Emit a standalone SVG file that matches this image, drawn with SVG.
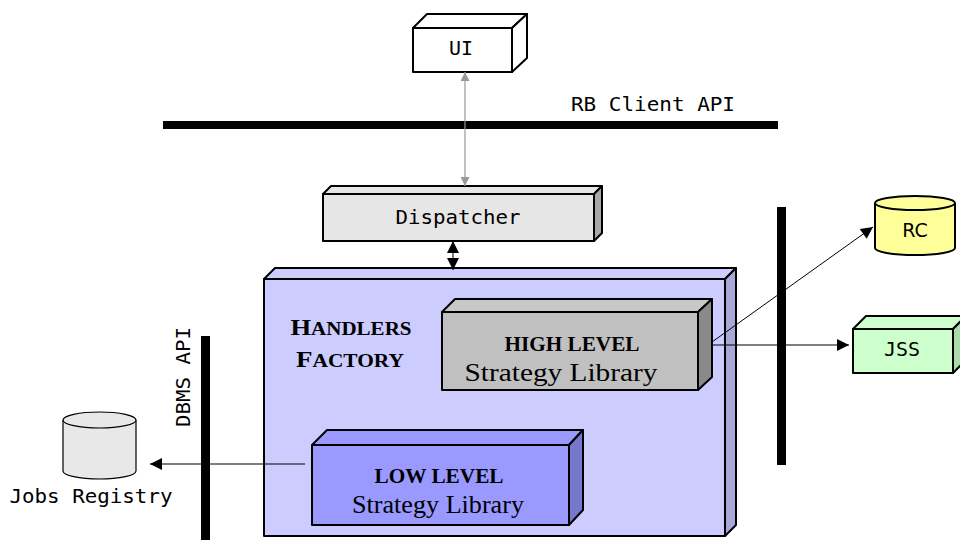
<svg xmlns="http://www.w3.org/2000/svg" width="960" height="540" viewBox="0 0 960 540">
<defs>
<style>
.box{stroke:#000;stroke-width:2;stroke-linejoin:round}
.mono{font-family:"DejaVu Sans Mono","Liberation Mono",monospace;font-size:20px;fill:#000}
.sans{font-family:"DejaVu Sans","Liberation Sans",sans-serif;font-size:19px;fill:#000}
.serif{font-family:"Liberation Serif","Times New Roman",serif;fill:#000}
.bar{fill:#000}
.conn{fill:none;stroke:#000;stroke-width:1}
</style>
<marker id="ahb" viewBox="0 0 10 10" refX="10" refY="5" markerWidth="14" markerHeight="12" markerUnits="userSpaceOnUse" orient="auto-start-reverse"><path d="M0,0 L10,5 L0,10 Z" fill="#000"/></marker>
<marker id="ahg" viewBox="0 0 10 10" refX="10" refY="5" markerWidth="9" markerHeight="9" markerUnits="userSpaceOnUse" orient="auto-start-reverse"><path d="M0,0 L10,5 L0,10 Z" fill="#999"/></marker>
<clipPath id="clipHigh"><rect x="442" y="312" width="256" height="77"/></clipPath>
<clipPath id="clipLow"><rect x="312" y="445" width="257" height="79"/></clipPath>
</defs>
<rect width="960" height="540" fill="#fff"/>

<g id="bars">
<rect class="bar" x="163" y="121" width="615" height="8"/>
<rect class="bar" x="777" y="207" width="9" height="258"/>
<rect class="bar" x="201" y="336" width="9" height="204"/>
<text class="mono" x="571" y="111" textLength="164" lengthAdjust="spacingAndGlyphs">RB Client API</text>
<text class="mono" transform="translate(190,377) rotate(-90)" text-anchor="middle" textLength="100" lengthAdjust="spacingAndGlyphs">DBMS API</text>
</g>

<g id="ui">
<rect class="box" x="413" y="28" width="99" height="44" fill="#fff"/>
<polygon class="box" points="413,28 427,14 527,14 512,28" fill="#fff"/>
<polygon class="box" points="512,28 527,14 527,58 512,72" fill="#fff"/>
<text class="mono" x="461" y="55" text-anchor="middle" textLength="24" lengthAdjust="spacingAndGlyphs">UI</text>
</g>

<g id="dispatcher">
<rect class="box" x="323" y="194" width="271" height="47" fill="#e6e6e6"/>
<polygon class="box" points="323,194 331,186 602,186 594,194" fill="#e6e6e6"/>
<polygon class="box" points="594,194 602,186 602,233 594,241" fill="#a8a8a8"/>
<text class="mono" x="458" y="224" text-anchor="middle" textLength="125" lengthAdjust="spacingAndGlyphs">Dispatcher</text>
</g>

<g id="handlers">
<rect class="box" x="264" y="279" width="461" height="257" fill="#ccccff"/>
<polygon class="box" points="264,279 275,268 736,268 725,279" fill="#ccccff"/>
<polygon class="box" points="725,279 736,268 736,525 725,536" fill="#a8a8d8"/>
<text class="serif" font-weight="bold" x="351" y="335" text-anchor="middle" textLength="121" lengthAdjust="spacingAndGlyphs"><tspan font-size="24">H</tspan><tspan font-size="19">ANDLERS</tspan></text>
<text class="serif" font-weight="bold" x="350" y="367" text-anchor="middle" textLength="108" lengthAdjust="spacingAndGlyphs"><tspan font-size="24">F</tspan><tspan font-size="19">ACTORY</tspan></text>
</g>

<g id="high">
<rect class="box" x="442" y="312" width="256" height="78" fill="#c0c0c0"/>
<polygon class="box" points="442,312 455,299 712,299 698,312" fill="#c8c8c8"/>
<polygon class="box" points="698,312 712,299 712,377 698,390" fill="#8a8a8a"/>
<g clip-path="url(#clipHigh)">
<text class="serif" font-weight="bold" font-size="20" x="572" y="351" text-anchor="middle" textLength="135" lengthAdjust="spacingAndGlyphs">HIGH LEVEL</text>
<text class="serif" font-size="26" x="561" y="381" text-anchor="middle" textLength="193" lengthAdjust="spacingAndGlyphs">Strategy Library</text>
</g>
</g>

<g id="low">
<rect class="box" x="312" y="445" width="257" height="80" fill="#9999ff"/>
<polygon class="box" points="312,445 327,430 583,430 569,445" fill="#9999ff"/>
<polygon class="box" points="569,445 583,430 583,510 569,525" fill="#7777cc"/>
<g clip-path="url(#clipLow)">
<text class="serif" font-weight="bold" font-size="20" x="439" y="483" text-anchor="middle" textLength="129" lengthAdjust="spacingAndGlyphs">LOW LEVEL</text>
<text class="serif" font-size="25" x="438" y="513" text-anchor="middle" textLength="172" lengthAdjust="spacingAndGlyphs">Strategy Library</text>
</g>
</g>

<g id="rc">
<path class="box" d="M875,203 L875,248 A40,7 0 0 0 955,248 L955,203" fill="#ffff99"/>
<ellipse class="box" cx="915" cy="203" rx="40" ry="7" fill="#ffff99"/>
<text class="sans" x="915" y="237" text-anchor="middle">RC</text>
</g>

<g id="jss">
<rect class="box" x="853" y="329" width="100" height="44" fill="#ccffcc"/>
<polygon class="box" points="853,329 866,316 966,316 953,329" fill="#ccffcc"/>
<polygon class="box" points="953,329 966,316 966,360 953,373" fill="#aaddaa"/>
<text class="mono" x="902" y="356" text-anchor="middle" textLength="36" lengthAdjust="spacingAndGlyphs">JSS</text>
</g>

<g id="jobs-registry">
<path d="M63,420 L63,471 A36.5,8 0 0 0 136,471 L136,420" fill="#e8e8e8" stroke="#000" stroke-width="1.2"/>
<ellipse cx="99.5" cy="420" rx="36.5" ry="8" fill="#e8e8e8" stroke="#000" stroke-width="1.2"/>
<text class="mono" x="91" y="503" text-anchor="middle" textLength="163" lengthAdjust="spacingAndGlyphs">Jobs Registry</text>
</g>

<g id="connectors">
<line x1="465" y1="72" x2="465" y2="186" stroke="#999" stroke-width="1.2" marker-start="url(#ahg)" marker-end="url(#ahg)"/>
<line class="conn" x1="453" y1="241" x2="453" y2="270" stroke-width="1.5" marker-start="url(#ahb)" marker-end="url(#ahb)"/>
<line class="conn" x1="712" y1="342" x2="873" y2="227" marker-end="url(#ahb)"/>
<line class="conn" x1="712" y1="345" x2="849" y2="345" marker-end="url(#ahb)"/>
<line class="conn" x1="305" y1="464" x2="150" y2="464" marker-end="url(#ahb)"/>
</g>
</svg>
